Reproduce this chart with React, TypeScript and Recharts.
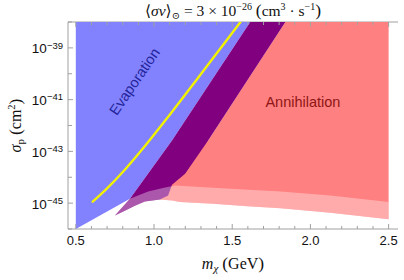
import React from 'react';
import { ScatterChart, Scatter, XAxis, YAxis, Curve } from 'recharts';

// Region outlines: [m_chi (GeV), log10(sigma_p / cm^2)]
const annihilationRegion: [number, number][] = [
  [1.84, -38], [2.5, -38], [2.5, -45.62], [2.128, -45.37], [1.808, -45.2], [1.596, -45.12],
  [1.378, -45.02], [1.167, -44.96], [1.115, -44.9], [1.038, -44.86], [1.05, -44.3],
  [1.346, -42.58],
];
const evaporationRegion: [number, number][] = [
  [0.5, -38], [1.615, -38], [1.115, -42.58], [0.846, -44.83], [0.5, -46],
];
const overlapRegion: [number, number][] = [
  [0.846, -44.83], [1.115, -42.58], [1.615, -38], [1.84, -38], [1.346, -42.58], [1.199, -43.86],
  [1.115, -44.29], [1.09, -44.71], [1.038, -44.86], [0.942, -44.94], [0.878, -45.1],
  [0.814, -45.29], [0.75, -45.48],
];
const boundBand: [number, number][] = [
  [0.846, -44.83], [0.962, -44.55], [1.071, -44.4], [1.135, -44.32], [1.487, -44.44],
  [1.808, -44.55], [2.128, -44.71], [2.5, -44.96], [2.5, -45.62], [2.128, -45.37],
  [1.808, -45.2], [1.596, -45.12], [1.378, -45.02], [1.167, -44.96], [1.115, -44.9],
  [1.038, -44.86], [0.942, -44.94], [0.878, -45.1], [0.814, -45.29], [0.75, -45.48],
];
const yellowCurve: [number, number][] = [
  [0.608, -44.945], [0.69, -44.49], [0.812, -43.72], [0.921, -42.95], [1.074, -41.79],
  [1.271, -40.24], [1.553, -38.0],
];
const regionLabels = [
  { x: 0.875, y: -40.3, text: 'Evaporation', angle: -55.6, color: '#23239a' },
  { x: 1.952, y: -41.1, text: 'Annihilation', angle: 0, color: '#8e1616' },
];

const xTicks = [0.5, 0.6, 0.7, 0.8, 0.9, 1.0, 1.1, 1.2, 1.3, 1.4, 1.5, 1.6, 1.7, 1.8, 1.9, 2.0, 2.1, 2.2, 2.3, 2.4, 2.5];
const xLabeled = [0.5, 1.0, 1.5, 2.0, 2.5];
const yTicks = [-46, -45, -44, -43, -42, -41, -40, -39, -38];
const yLabeled = [-45, -43, -41, -39];

const X_DOMAIN: [number, number] = [0.45, 2.56];
const Y_DOMAIN: [number, number] = [-46, -38];

const FRAME = '#a0a0a0';
const SANS = '"Liberation Sans", Arial, sans-serif';
const SERIF = '"Liberation Serif", "DejaVu Serif", serif';

const toPts = (arr: [number, number][]) => arr.map(([x, y]) => ({ x, y }));

const polygonLine = (fill: string, opacity = 1) => (p: any) => {
  const pts: { x: number; y: number }[] = p.points || [];
  const d = pts.map((q, i) => `${i ? 'L' : 'M'}${q.x},${q.y}`).join('') + 'Z';
  return <path d={d} fill={fill} fillOpacity={opacity} stroke="none" />;
};

const smoothLine = (stroke: string, width: number) => (p: any) => {
  const pts: { x: number; y: number }[] = p.points || [];
  return <Curve type="monotoneX" points={pts} fill="none" stroke={stroke} strokeWidth={width} strokeLinecap="round" />;
};

const Empty = () => <g />;

const isIn = (v: number, list: number[]) => list.some((w) => Math.abs(w - v) < 1e-6);

const BottomTick = (p: any) => {
  const v = p.payload.value;
  const major = isIn(v, xLabeled);
  return (
    <g>
      <line x1={p.x} x2={p.x} y1={p.y} y2={p.y - (major ? 5 : 3)} stroke={FRAME} />
      {major && (
        <text x={p.x} y={p.y + 15.5} textAnchor="middle" fontFamily={SANS} fontSize={13} fill="#111">
          {v.toFixed(1)}
        </text>
      )}
    </g>
  );
};
const TopTick = (p: any) => {
  const v = p.payload.value;
  const major = isIn(v, xLabeled);
  return <line x1={p.x} x2={p.x} y1={p.y} y2={p.y + (major ? 5 : 3)} stroke={FRAME} />;
};
const LeftTick = (p: any) => {
  const v = p.payload.value;
  const major = isIn(v, yLabeled);
  return (
    <g>
      <line x1={p.x} x2={p.x + (major ? 5 : 4)} y1={p.y} y2={p.y} stroke={FRAME} />
      {major && (
        <text x={p.x - 5} y={p.y + 5.5} textAnchor="end" fontFamily={SANS} fontSize={13.5} fill="#111">
          <tspan>10</tspan>
          <tspan dy={-4.7} fontSize={9.5}>{'\u2212' + Math.abs(v)}</tspan>
        </text>
      )}
    </g>
  );
};
const RightTick = (p: any) => {
  const v = p.payload.value;
  const major = isIn(v, yLabeled);
  return <line x1={p.x} x2={p.x - (major ? 5 : 4)} y1={p.y} y2={p.y} stroke={FRAME} />;
};

const TitleLabel = (lp: any) => {
  const vb = lp.viewBox || { x: 68, y: 0, width: 330, height: 22 };
  const cx = vb.x + vb.width / 2;
  return (
    <text x={cx} y={16} textAnchor="middle" fontFamily={SERIF} fontSize={15.5} fill="#111">
      <tspan>{'\u27E8'}</tspan>
      <tspan fontStyle="italic">σv</tspan>
      <tspan>{'\u27E9'}</tspan>
      <tspan dy={3} fontSize={10}>⊙</tspan>
      <tspan dy={-3}>{' = 3 × 10'}</tspan>
      <tspan dy={-6} fontSize={10}>{'\u221226'}</tspan>
      <tspan dy={6}>{'  '}</tspan>
      <tspan fontSize={17.5}>(</tspan>
      <tspan>cm</tspan>
      <tspan dy={-6} fontSize={10}>3</tspan>
      <tspan dy={6}>{' · s'}</tspan>
      <tspan dy={-6} fontSize={10}>{'\u22121'}</tspan>
      <tspan dy={6} fontSize={17.5}>)</tspan>
    </text>
  );
};

const XTitle = (lp: any) => {
  const vb = lp.viewBox || { x: 68, y: 229, width: 330, height: 51 };
  const cx = vb.x + vb.width / 2;
  return (
    <text x={cx} y={vb.y + 40} textAnchor="middle" fontFamily={SERIF} fontSize={16} fill="#111">
      <tspan fontStyle="italic">m</tspan>
      <tspan dy={3} fontSize={11} fontStyle="italic">χ</tspan>
      <tspan dy={-3}>{'  '}</tspan>
      <tspan fontSize={17.5}>(</tspan>
      <tspan>GeV</tspan>
      <tspan fontSize={17.5}>)</tspan>
    </text>
  );
};

const YTitle = (lp: any) => {
  const vb = lp.viewBox || { x: 0, y: 22, width: 68, height: 207 };
  const x = vb.x + 21;
  const y = vb.y + vb.height / 2;
  return (
    <text x={x} y={y} transform={`rotate(-90, ${x}, ${y})`} textAnchor="middle" fontFamily={SERIF} fontSize={16} fill="#111">
      <tspan fontStyle="italic">σ</tspan>
      <tspan dy={3} fontSize={11}>p</tspan>
      <tspan dy={-3}>{'  '}</tspan>
      <tspan fontSize={17.5}>(</tspan>
      <tspan>cm</tspan>
      <tspan dy={-6} fontSize={10.5}>2</tspan>
      <tspan dy={6} fontSize={17.5}>)</tspan>
    </text>
  );
};

const TextShape = (p: any) => {
  const d = p.payload;
  return (
    <text
      x={p.cx}
      y={p.cy}
      transform={`rotate(${d.angle}, ${p.cx}, ${p.cy})`}
      textAnchor="middle"
      dominantBaseline="central"
      fontFamily={SANS}
      fontSize={14.5}
      fill={d.color}
    >
      {d.text}
    </text>
  );
};

export default function App() {
  return (
    <div style={{ position: 'absolute', left: 0, top: 0, width: 404, height: 280, background: '#fff' }}>
      <ScatterChart width={404} height={280} margin={{ top: 0, right: 6, bottom: 0, left: 0 }}>
        <XAxis
          xAxisId="b"
          orientation="bottom"
          type="number"
          dataKey="x"
          domain={X_DOMAIN}
          allowDataOverflow
          ticks={xTicks}
          interval={0}
          tickSize={0}
          tickMargin={0}
          tickLine={false}
          axisLine={{ stroke: FRAME }}
          height={51}
          tick={<BottomTick />}
          label={{ content: <XTitle /> }}
        />
        <XAxis
          xAxisId="t"
          orientation="top"
          type="number"
          dataKey="x"
          domain={X_DOMAIN}
          allowDataOverflow
          ticks={xTicks}
          interval={0}
          tickSize={0}
          tickMargin={0}
          tickLine={false}
          axisLine={{ stroke: FRAME }}
          height={22}
          tick={<TopTick />}
          label={{ content: <TitleLabel /> }}
        />
        <YAxis
          yAxisId="l"
          orientation="left"
          type="number"
          dataKey="y"
          domain={Y_DOMAIN}
          allowDataOverflow
          ticks={yTicks}
          interval={0}
          tickSize={0}
          tickMargin={0}
          tickLine={false}
          axisLine={{ stroke: FRAME }}
          width={68}
          tick={<LeftTick />}
          label={{ content: <YTitle /> }}
        />
        <YAxis
          yAxisId="r"
          orientation="right"
          type="number"
          dataKey="y"
          domain={Y_DOMAIN}
          allowDataOverflow
          ticks={yTicks}
          interval={0}
          tickSize={0}
          tickMargin={0}
          tickLine={false}
          axisLine={{ stroke: FRAME }}
          width={0}
          tick={<RightTick />}
        />
        <Scatter xAxisId="b" yAxisId="l" data={toPts(annihilationRegion)} line={polygonLine('#ff8080')} shape={<Empty />} isAnimationActive={false} />
        <Scatter xAxisId="b" yAxisId="l" data={toPts(evaporationRegion)} line={polygonLine('#8282ff')} shape={<Empty />} isAnimationActive={false} />
        <Scatter xAxisId="b" yAxisId="l" data={toPts(overlapRegion)} line={polygonLine('#800080')} shape={<Empty />} isAnimationActive={false} />
        <Scatter xAxisId="b" yAxisId="l" data={toPts(boundBand)} line={polygonLine('#ffffff', 0.34)} shape={<Empty />} isAnimationActive={false} />
        <Scatter xAxisId="b" yAxisId="l" data={toPts(yellowCurve)} line={smoothLine('#f2f200', 2.4)} shape={<Empty />} isAnimationActive={false} />
        <Scatter xAxisId="b" yAxisId="l" data={regionLabels} shape={<TextShape />} isAnimationActive={false} />
      </ScatterChart>
    </div>
  );
}
